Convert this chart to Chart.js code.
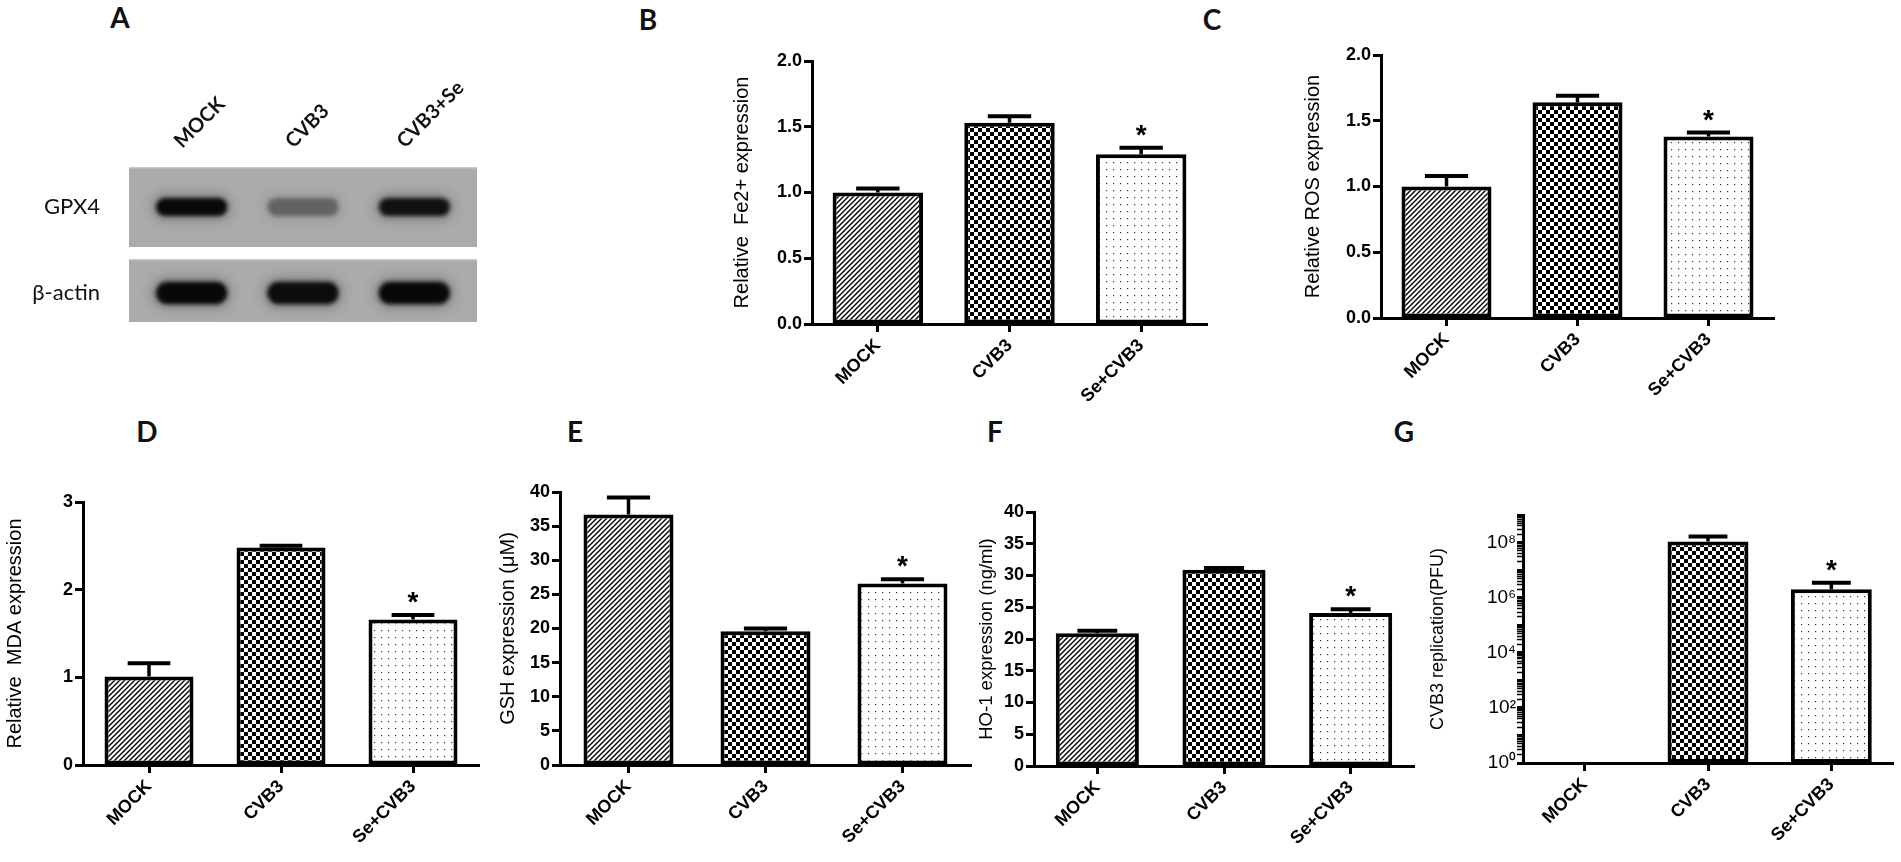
<!DOCTYPE html>
<html>
<head>
<meta charset="utf-8">
<script src="https://cdn.jsdelivr.net/npm/chart.js@4.4.1/dist/chart.umd.min.js"></script>
<style>
  body { margin: 0; background: #fff; width: 1901px; height: 862px; position: relative; overflow: hidden; }
  .panel { position: absolute; }
  .letter { position: absolute; font: bold 28px Lato, 'Open Sans', sans-serif; line-height: 28px; transform: translateX(-50%); color: #111; }
</style>
</head>
<body>
<div class="letter" style="left:120px;top:3px">A</div>
<div class="letter" style="left:648px;top:5px">B</div>
<div class="letter" style="left:1212px;top:5px">C</div>
<div class="letter" style="left:147px;top:417px">D</div>
<div class="letter" style="left:575px;top:417px">E</div>
<div class="letter" style="left:995px;top:417px">F</div>
<div class="letter" style="left:1404px;top:417px">G</div>
<script>
// groups and significance marks shared by panels B-G
const groups   = ['MOCK', 'CVB3', 'Se+CVB3'];
const sigMarks = ['', '', '*'];

// panel A western blot (relative band darkness)
const blotLanes = ['MOCK', 'CVB3', 'CVB3+Se'];
const blotRows  = ['GPX4', 'β-actin'];
const gpx4Band  = [1.0, 0.38, 0.92];
const actinBand = [1.0, 0.97, 1.0];

// bar panels: mean and upper error
const fe2Mean = [1.00, 1.53, 1.29];
const fe2Err  = [0.03, 0.05, 0.05];
const rosMean = [1.00, 1.64, 1.38];
const rosErr  = [0.08, 0.05, 0.03];
const mdaMean = [1.01, 2.48, 1.66];
const mdaErr  = [0.15, 0.02, 0.05];
const gshMean = [36.7, 19.6, 26.6];
const gshErr  = [2.5, 0.4, 0.6];
const hoMean  = [20.9, 30.9, 24.1];
const hoErr   = [0.4, 0.3, 0.6];
const pfuMean = [null, 1.1e8, 2.0e6];
const pfuErr  = [0, 0.55e8, 1.5e6];
const pfuTickExp = [0, 2, 4, 6, 8];

const FONT = "'Liberation Sans', Arial, sans-serif";
const SUP = { 0: '⁰', 2: '²', 4: '⁴', 6: '⁶', 8: '⁸' };

function addCanvas(left, top, w, h) {
  const box = document.createElement('div');
  box.className = 'panel';
  Object.assign(box.style, { left: left + 'px', top: top + 'px', width: w + 'px', height: h + 'px' });
  const c = document.createElement('canvas');
  box.appendChild(c);
  document.body.appendChild(box);
  return c;
}

function tile(size, draw) {
  const c = document.createElement('canvas');
  c.width = c.height = size;
  const g = c.getContext('2d');
  g.fillStyle = '#fff';
  g.fillRect(0, 0, size, size);
  draw(g, size);
  return c;
}
const hatchTile = tile(5, (g, s) => {
  g.strokeStyle = '#000'; g.lineWidth = 1.4;
  g.beginPath();
  g.moveTo(-1, s + 1); g.lineTo(s + 1, -1);
  g.moveTo(-1, 1); g.lineTo(1, -1);
  g.moveTo(s - 1, s + 1); g.lineTo(s + 1, s - 1);
  g.stroke();
});
const checkTile = tile(8, g => {
  g.fillStyle = '#000';
  g.fillRect(0, 0, 4, 4);
  g.fillRect(4, 4, 4, 4);
});
const dotTile = tile(7, g => {
  g.fillStyle = '#333';
  g.fillRect(3, 3, 1.2, 1.2);
});
const fillTiles = [hatchTile, checkTile, dotTile];

// upward error bars + significance star, placed through the y scale
const errorBars = {
  id: 'errorBars',
  afterDatasetsDraw(chart) {
    const ds = chart.data.datasets[0];
    const meta = chart.getDatasetMeta(0);
    const y = chart.scales.y;
    const ctx = chart.ctx;
    ctx.save();
    ctx.strokeStyle = '#000';
    ctx.fillStyle = '#000';
    meta.data.forEach((bar, i) => {
      const v = ds.data[i];
      if (v == null) return;
      const top = y.getPixelForValue(v);
      const hi = y.getPixelForValue(v + ds.errors[i]);
      const half = bar.width * 0.24;
      ctx.lineWidth = 3.5;
      ctx.beginPath(); ctx.moveTo(bar.x, top); ctx.lineTo(bar.x, hi); ctx.stroke();
      ctx.lineWidth = 4;
      ctx.beginPath(); ctx.moveTo(bar.x - half, hi); ctx.lineTo(bar.x + half, hi); ctx.stroke();
      if (ds.marks[i]) {
        ctx.font = 'bold 28px ' + FONT;
        ctx.textAlign = 'center';
        ctx.textBaseline = 'alphabetic';
        ctx.fillText(ds.marks[i], bar.x, hi - 4);
      }
    });
    ctx.restore();
  }
};

function barPanel(cfg) {
  const [bl, bt, bw, bh] = cfg.box;
  const [al, at, ar, ab] = cfg.area;
  const canvas = addCanvas(bl, bt, bw, bh);
  const ySize = al - bl;
  const xSize = bt + bh - ab;
  const yScale = cfg.log ? {
    type: 'logarithmic', min: 1, max: 1e9,
    afterBuildTicks: s => {
      const t = [];
      for (let k = 0; k < 9; k++) for (let m = 1; m < 10; m++) t.push({ value: m * Math.pow(10, k) });
      t.push({ value: 1e9 });
      s.ticks = t;
    },
    ticks: {
      autoSkip: false, color: '#000', padding: 1,
      font: { family: FONT, size: 19 },
      callback: v => {
        const k = Math.round(Math.log10(v));
        const exact = Math.abs(v - Math.pow(10, k)) < 1e-6 * v;
        return exact && pfuTickExp.includes(k) ? '10' + SUP[k] : '';
      }
    },
    grid: {
      drawOnChartArea: false, tickLength: 6, tickColor: '#000',
      tickWidth: c => {
        const v = c.tick.value;
        const k = Math.round(Math.log10(v));
        return Math.abs(v - Math.pow(10, k)) < 1e-6 * v ? 3 : 1.5;
      }
    }
  } : {
    type: 'linear', min: 0, max: cfg.max,
    ticks: {
      stepSize: cfg.step, color: '#000', padding: 2,
      font: { family: FONT, size: 18, weight: 'bold' },
      callback: v => v.toFixed(cfg.digits)
    },
    grid: { drawOnChartArea: false, tickLength: 8, tickWidth: 3, tickColor: '#000' }
  };
  Object.assign(yScale, {
    border: { color: '#000', width: 3 },
    title: {
      display: true, text: cfg.title, color: '#000',
      font: { family: FONT, size: cfg.titleSize },
      padding: { top: cfg.titlePad, bottom: 0 }
    },
    afterFit: s => { s.width = ySize; }
  });

  return new Chart(canvas, {
    type: 'bar',
    data: {
      labels: groups,
      datasets: [{
        data: cfg.values,
        errors: cfg.errors,
        marks: sigMarks,
        backgroundColor: c => c.chart.ctx.createPattern(fillTiles[c.dataIndex], 'repeat'),
        borderColor: '#000',
        borderWidth: 4,
        borderSkipped: false,
        categoryPercentage: 1,
        barPercentage: cfg.barPct
      }]
    },
    options: {
      responsive: true, maintainAspectRatio: false, animation: false,
      layout: { padding: { top: at - bt, right: bl + bw - ar, left: 0, bottom: 0 } },
      plugins: { legend: { display: false }, tooltip: { enabled: false } },
      scales: {
        x: {
          grid: { offset: false, drawOnChartArea: false, tickLength: 8, tickWidth: 3, tickColor: '#000' },
          border: { color: '#000', width: 3 },
          ticks: {
            color: '#000', minRotation: 45, maxRotation: 45, padding: 3,
            font: { family: FONT, size: 18, weight: 'bold' }
          },
          afterFit: s => { s.height = xSize; }
        },
        y: yScale
      }
    },
    plugins: [errorBars]
  });
}

// panel A: gray membrane strips with bands drawn at lane/row positions
const blotPlugin = {
  id: 'blot',
  beforeDatasetsDraw(chart) {
    const { ctx, chartArea: area, scales: { x, y } } = chart;
    const rows = [gpx4Band, actinBand];
    const bandThick = [0.21, 0.26];
    const inset = [[3, 3], [9, 14]];
    const rowH = (area.bottom - area.top) / rows.length;
    const laneW = (area.right - area.left) / blotLanes.length;
    rows.forEach((row, r) => {
      const cy = y.getPixelForValue(r);
      const py0 = cy - rowH / 2 + inset[r][0], py1 = cy + rowH / 2 - inset[r][1];
      const px0 = area.left - 7, px1 = area.right + 7;
      ctx.save();
      ctx.fillStyle = '#ababab';
      ctx.fillRect(px0, py0, px1 - px0, py1 - py0);
      ctx.fillStyle = 'rgba(255,255,255,0.35)';
      ctx.fillRect(px0, py0, px1 - px0, 1.5);
      ctx.beginPath(); ctx.rect(px0, py0, px1 - px0, py1 - py0); ctx.clip();
      row.forEach((v, i) => {
        const cx = x.getPixelForValue(i);
        const w = laneW * 0.64, h = rowH * bandThick[r];
        ctx.filter = 'blur(6px)';
        ctx.fillStyle = `rgba(20,20,20,${0.28 * v})`;
        ctx.beginPath(); ctx.roundRect(cx - w / 2 - 4, cy - h / 2 - 4, w + 8, h + 8, h / 2 + 4); ctx.fill();
        ctx.filter = 'blur(2px)';
        ctx.fillStyle = `rgba(8,8,8,${v})`;
        ctx.beginPath(); ctx.roundRect(cx - w / 2, cy - h / 2, w, h, h / 2); ctx.fill();
      });
      ctx.restore();
    });
  }
};

(function blotPanel() {
  const box = [0, 60, 490, 290];
  const area = [136, 164, 470, 336];
  const canvas = addCanvas(box[0], box[1], box[2], box[3]);
  new Chart(canvas, {
    type: 'bar',
    data: { labels: blotLanes, datasets: [] },
    options: {
      responsive: true, maintainAspectRatio: false, animation: false,
      layout: { padding: { top: 0, left: 0, right: box[0] + box[2] - area[2], bottom: box[1] + box[3] - area[3] } },
      plugins: { legend: { display: false }, tooltip: { enabled: false } },
      scales: {
        x: {
          type: 'category', position: 'top', offset: true,
          grid: { display: false }, border: { display: false },
          ticks: {
            color: '#111', minRotation: 45, maxRotation: 45, padding: 3, labelOffset: 3,
            font: { family: 'Lato, sans-serif', size: 20, weight: 'bold' }
          },
          afterFit: s => { s.height = area[1] - box[1]; }
        },
        y: {
          type: 'category', labels: blotRows, offset: true,
          grid: { display: true, drawOnChartArea: false, drawTicks: true, tickLength: 36, tickColor: 'rgba(0,0,0,0)' },
          border: { display: false },
          ticks: { color: '#111', padding: 0, font: { family: 'Lato, sans-serif', size: 22 } },
          afterFit: s => { s.width = area[0] - box[0]; }
        }
      }
    },
    plugins: [blotPlugin]
  });
})();

barPanel({ box: [690, 40, 530, 400], area: [812, 61, 1207, 324], values: fe2Mean, errors: fe2Err,
  max: 2, step: 0.5, digits: 1, title: 'Relative  Fe2+ expression', titleSize: 20, titlePad: 40, barPct: 0.687 });
barPanel({ box: [1262, 34, 528, 406], area: [1381, 55, 1774, 318], values: rosMean, errors: rosErr,
  max: 2, step: 0.5, digits: 1, title: 'Relative ROS expression', titleSize: 20, titlePad: 39, barPct: 0.687 });
barPanel({ box: [0, 480, 500, 382], area: [83, 502, 479, 765], values: mdaMean, errors: mdaErr,
  max: 3, step: 1, digits: 0, title: 'Relative  MDA expression', titleSize: 20, titlePad: 3, barPct: 0.674 });
barPanel({ box: [480, 470, 500, 392], area: [560, 492, 971, 765], values: gshMean, errors: gshErr,
  max: 40, step: 5, digits: 0, title: 'GSH expression (μM)', titleSize: 20, titlePad: 16, barPct: 0.657 });
barPanel({ box: [960, 490, 470, 372], area: [1034, 512, 1414, 766], values: hoMean, errors: hoErr,
  max: 40, step: 5, digits: 0, title: 'HO-1 expression (ng/ml)', titleSize: 18.5, titlePad: 16, barPct: 0.656 });
barPanel({ box: [1420, 495, 481, 367], area: [1523, 515, 1893, 763], values: pfuMean, errors: pfuErr,
  log: true, title: 'CVB3 replication(PFU)', titleSize: 18, titlePad: 7, barPct: 0.656 });
</script>
</body>
</html>
